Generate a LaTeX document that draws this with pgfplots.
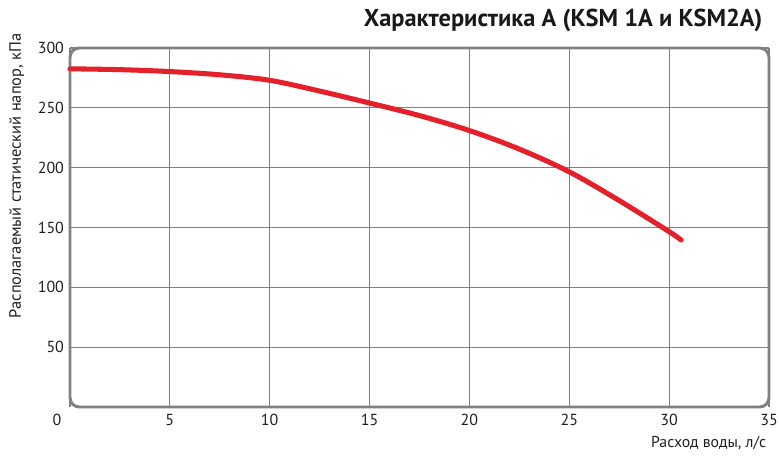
\documentclass[border=0pt]{standalone}
\usepackage{pgfplots}
\pgfplotsset{compat=1.18}
\usepackage{fontspec}
\setmainfont{PT Sans}
\definecolor{curvered}{HTML}{E4202A}
\definecolor{gridgray}{HTML}{808080}
\begin{document}
\begin{tikzpicture}[x=0.75pt,y=0.75pt]
\path[use as bounding box] (0,0) rectangle (779,457);
\begin{axis}[
  at={(70pt*0.75,50pt*0.75)}, anchor=origin,
  scale only axis,
  width=524.25pt, height=269.25pt,
  xmin=0, xmax=35, ymin=0, ymax=300,
  xtick={0,5,10,15,20,25,30,35},
  ytick={50,100,150,200,250,300},
  grid=major,
  major grid style={gridgray, line width=0.9pt},
  axis line style={draw=none},
  tick style={draw=none},
  ticklabel style={font=\fontsize{12}{14}\selectfont, text=black!88},
  /pgf/number format/assume math mode=true,
  xticklabel={\ifdim\tick pt=0pt\hspace*{-19.5pt}\fi\pgfmathprintnumber{\tick}},
  xticklabel style={yshift=-2pt},
  yticklabel style={xshift=-1pt},
  clip=false,
]
\draw[gridgray, line width=2.2pt, rounded corners=7pt] (rel axis cs:0,0) rectangle (rel axis cs:1,1);
\addplot[curvered, line width=3.8pt, line cap=round, smooth, tension=0.55] coordinates {
(0,282.6) (2.5,281.9) (5,280.3) (7.5,277.6) (10,273) (12.5,264) (15,254) (17.5,243.5)
(20,231) (22.5,215.5) (25,196.5) (27.5,172.5) (30,146.5) (30.6,139.5)
};
\end{axis}
\node[anchor=base east, font=\fontsize{18.3}{20}\selectfont\bfseries, text=black!90] at (767,430) {Характеристика A (KSM 1A и KSM2A)};
\node[anchor=base east, font=\fontsize{11.8}{13}\selectfont, text=black!88] at (771,9) {Расход воды, л/с};
\node[rotate=90, anchor=base, font=\fontsize{12.3}{14}\selectfont, text=black!88] at (21,281) {Располагаемый статический напор, кПа};
\end{tikzpicture}
\end{document}
